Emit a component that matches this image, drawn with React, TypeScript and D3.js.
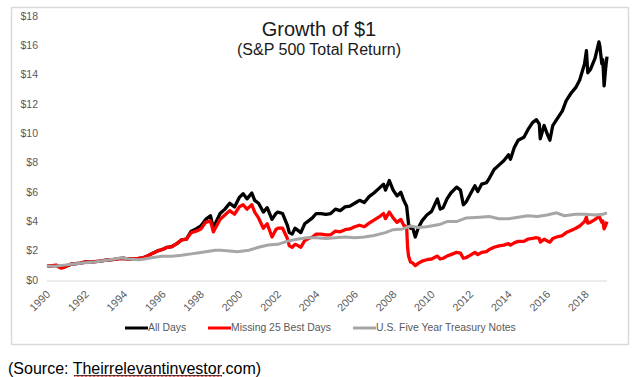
import React from "react";
import * as d3 from "d3";

// ---- data (decimal year, value in $) ----
const allDaysYears = [1990.0,1990.25,1990.5,1990.75,1991.0,1991.25,1991.5,1991.75,1992.0,1992.25,1992.5,1992.75,1993.0,1993.25,1993.5,1993.75,1994.0,1994.25,1994.5,1994.75,1995.0,1995.25,1995.5,1995.75,1996.0,1996.25,1996.5,1996.75,1997.0,1997.25,1997.5,1997.75,1998.0,1998.25,1998.5,1998.65,1998.75,1999.0,1999.25,1999.5,1999.75,2000.0,2000.2,2000.4,2000.65,2000.8,2001.0,2001.25,2001.45,2001.7,2001.9,2002.0,2002.25,2002.5,2002.6,2002.75,2002.9,2003.0,2003.2,2003.4,2003.6,2003.8,2004.0,2004.25,2004.5,2004.75,2005.0,2005.25,2005.5,2005.75,2006.0,2006.25,2006.5,2006.75,2007.0,2007.25,2007.5,2007.6,2007.8,2008.0,2008.2,2008.4,2008.55,2008.7,2008.8,2008.9,2009.0,2009.15,2009.3,2009.5,2009.75,2010.0,2010.3,2010.45,2010.6,2010.8,2011.0,2011.3,2011.5,2011.65,2011.8,2012.0,2012.25,2012.4,2012.6,2012.85,2013.0,2013.25,2013.5,2013.75,2014.0,2014.1,2014.3,2014.5,2014.8,2015.0,2015.25,2015.45,2015.6,2015.65,2015.85,2016.05,2016.15,2016.3,2016.5,2016.8,2017.0,2017.25,2017.5,2017.7,2017.95,2018.05,2018.12,2018.25,2018.5,2018.7,2018.75,2018.85,2018.9,2018.97,2019.05,2019.12];
const allDaysValues = [1.0,1.03,1.06,0.93,1.0,1.15,1.18,1.22,1.3,1.28,1.32,1.35,1.4,1.45,1.47,1.52,1.55,1.5,1.52,1.54,1.58,1.72,1.9,2.05,2.15,2.3,2.35,2.55,2.8,2.85,3.4,3.55,3.75,4.2,4.45,3.6,3.9,4.6,4.9,5.3,5.05,5.7,5.95,5.6,6.0,5.5,5.3,4.7,5.0,4.2,4.6,4.7,4.6,3.8,3.3,3.2,3.6,3.5,3.3,3.9,4.1,4.3,4.6,4.6,4.55,4.6,4.9,4.8,5.05,5.1,5.3,5.5,5.35,5.75,6.0,6.3,6.6,6.2,6.85,6.2,5.8,6.05,5.5,5.1,3.9,3.6,3.7,3.0,3.6,4.1,4.5,4.75,5.6,4.9,5.0,5.6,6.0,6.4,6.2,5.2,5.4,5.9,6.5,6.1,6.6,6.7,7.0,7.6,7.9,8.2,8.6,8.3,9.1,9.6,9.8,10.3,10.8,11.0,10.7,9.7,10.6,9.9,9.6,10.6,11.0,11.6,12.3,12.8,13.2,13.7,14.8,15.7,14.2,14.4,15.2,16.3,16.0,14.8,15.1,13.3,14.5,15.3];

const missingYears = [1990.0,1990.25,1990.5,1990.6,1990.75,1990.9,1991.0,1991.25,1991.5,1991.75,1992.0,1992.25,1992.5,1992.75,1993.0,1993.25,1993.5,1993.75,1994.0,1994.25,1994.5,1994.75,1995.0,1995.25,1995.5,1995.75,1996.0,1996.25,1996.5,1996.75,1997.0,1997.25,1997.5,1997.75,1998.0,1998.25,1998.5,1998.65,1998.75,1999.0,1999.25,1999.5,1999.75,2000.0,2000.2,2000.4,2000.65,2000.8,2001.0,2001.25,2001.45,2001.7,2001.9,2002.0,2002.25,2002.5,2002.6,2002.75,2002.9,2003.0,2003.2,2003.4,2003.6,2003.8,2004.0,2004.25,2004.5,2004.75,2005.0,2005.25,2005.5,2005.75,2006.0,2006.25,2006.5,2006.75,2007.0,2007.25,2007.5,2007.6,2007.8,2008.0,2008.2,2008.4,2008.55,2008.7,2008.75,2008.8,2008.9,2009.0,2009.15,2009.3,2009.5,2009.75,2010.0,2010.3,2010.45,2010.6,2010.8,2011.0,2011.3,2011.5,2011.65,2011.8,2012.0,2012.25,2012.4,2012.6,2012.85,2013.0,2013.25,2013.5,2013.75,2014.0,2014.1,2014.3,2014.5,2014.8,2015.0,2015.25,2015.45,2015.6,2015.65,2015.85,2016.05,2016.15,2016.3,2016.5,2016.8,2017.0,2017.25,2017.5,2017.7,2017.95,2018.05,2018.12,2018.25,2018.5,2018.7,2018.75,2018.85,2018.9,2018.97,2019.05,2019.12];
const missingValues = [1.0,1.05,1.08,0.95,0.88,0.92,1.02,1.15,1.18,1.22,1.3,1.28,1.32,1.35,1.4,1.45,1.47,1.52,1.55,1.5,1.52,1.54,1.58,1.72,1.9,2.05,2.15,2.3,2.35,2.55,2.8,2.85,3.3,3.4,3.55,4.0,4.1,3.35,3.6,4.2,4.5,4.8,4.55,5.05,5.2,4.9,5.2,4.7,4.3,3.6,3.9,3.0,3.5,3.6,3.6,2.9,2.4,2.3,2.5,2.45,2.3,2.75,2.9,3.0,3.2,3.2,3.15,3.15,3.4,3.35,3.5,3.55,3.7,3.8,3.7,3.95,4.15,4.35,4.6,4.25,4.7,4.3,4.0,4.2,3.8,3.7,2.3,1.7,1.3,1.25,1.05,1.2,1.35,1.45,1.5,1.7,1.5,1.55,1.7,1.8,1.95,1.9,1.55,1.6,1.75,1.95,1.8,1.95,2.0,2.15,2.3,2.4,2.45,2.55,2.45,2.6,2.7,2.7,2.85,2.9,2.95,2.9,2.65,2.85,2.7,2.65,2.9,3.0,3.1,3.3,3.45,3.6,3.75,4.05,4.35,3.95,4.0,4.2,4.4,4.3,4.0,4.1,3.55,3.8,4.05];

const treasuryYears = [1990.0,1990.5,1991.0,1991.5,1992.0,1992.5,1993.0,1993.5,1993.9,1994.25,1994.75,1995.0,1995.5,1996.0,1996.5,1997.0,1997.5,1998.0,1998.75,1999.0,1999.5,1999.9,2000.5,2001.0,2001.5,2002.0,2002.6,2003.0,2003.5,2004.0,2004.5,2005.0,2005.5,2006.0,2006.5,2007.0,2007.6,2008.0,2008.5,2008.9,2009.3,2009.75,2010.4,2010.8,2011.3,2011.8,2012.5,2013.0,2013.5,2014.0,2014.5,2015.0,2015.5,2016.0,2016.5,2016.9,2017.5,2018.0,2018.5,2018.9,2019.12];
const treasuryValues = [1.0,1.02,1.1,1.17,1.25,1.3,1.4,1.5,1.58,1.5,1.45,1.48,1.6,1.68,1.68,1.75,1.85,1.95,2.1,2.1,2.05,2.0,2.1,2.3,2.45,2.5,2.75,2.85,2.95,2.95,2.9,2.95,3.0,2.95,3.0,3.1,3.3,3.5,3.55,3.75,3.65,3.7,3.85,4.05,4.05,4.3,4.35,4.4,4.25,4.25,4.35,4.45,4.4,4.5,4.65,4.45,4.55,4.55,4.5,4.55,4.65];

const xTickYears = [1990,1992,1994,1996,1998,2000,2002,2004,2006,2008,2010,2012,2014,2016,2018];
const yTickValues = [0,2,4,6,8,10,12,14,16,18];

const seriesNames = ["All Days", "Missing 25 Best Days", "U.S. Five Year Treasury Notes"];
const seriesColors = ["#000000", "#ff0000", "#a6a6a6"];

const FONT = "'Liberation Sans', Arial, sans-serif";

export default function App() {
  const x = d3.scaleLinear().domain([1990, 2019.12]).range([47, 607]);
  const y = d3.scaleLinear().domain([0, 18]).range([281, 17]);

  const line = d3
    .line<[number, number]>()
    .x((d) => x(d[0]))
    .y((d) => y(d[1]))
    .curve(d3.curveLinear);

  const series = [
    d3.zip(allDaysYears, allDaysValues) as [number, number][],
    d3.zip(missingYears, missingValues) as [number, number][],
    d3.zip(treasuryYears, treasuryValues) as [number, number][],
  ];
  const widths = [3.3, 3.3, 3];

  const legendX = [125, 208, 353];
  const legendY = 328;

  // wavy spell-check underline
  const wave: string[] = [];
  for (let i = 0, px = 74; px <= 222; i++, px += 2) {
    wave.push(`${i === 0 ? "M" : "L"}${px},${i % 2 === 0 ? 377 : 375.5}`);
  }

  return (
    <svg
      width={643}
      height={377}
      style={{ position: "absolute", left: 0, top: 0, background: "#fff" }}
      fontFamily={FONT}
    >
      <rect x={0} y={0} width={643} height={377} fill="#fff" />
      <rect x={11.5} y={7.5} width={617} height={337} fill="none" stroke="#d9d9d9" strokeWidth={1.5} />

      <text x={319} y={36} textAnchor="middle" fontSize={20} fill="#1a1a1a">
        Growth of $1
      </text>
      <text x={319} y={55} textAnchor="middle" fontSize={16} fill="#1a1a1a">
        (S&amp;P 500 Total Return)
      </text>

      {yTickValues.map((v) => (
        <text key={v} x={38} y={y(v)} textAnchor="end" dominantBaseline="middle" fontSize={10.5} fill="#595959">
          {`$${v}`}
        </text>
      ))}

      <line x1={47} x2={607} y1={y(0)} y2={y(0)} stroke="#d9d9d9" strokeWidth={1} />

      {xTickYears.map((yr) => (
        <text
          key={yr}
          transform={`translate(${x(yr) + 4},${295}) rotate(-45)`}
          textAnchor="end"
          fontSize={10.8}
          fill="#595959"
        >
          {yr}
        </text>
      ))}

      {series.map((s, i) => (
        <path
          key={i}
          d={line(s) || ""}
          fill="none"
          stroke={seriesColors[i]}
          strokeWidth={widths[i]}
          strokeLinejoin="round"
        />
      ))}

      {seriesNames.map((name, i) => (
        <g key={name}>
          <line x1={legendX[i]} x2={legendX[i] + 23} y1={legendY} y2={legendY} stroke={seriesColors[i]} strokeWidth={3} />
          <text x={legendX[i] + 23} y={legendY} dominantBaseline="middle" fontSize={10.4} fill="#595959">
            {name}
          </text>
        </g>
      ))}

      <text x={8} y={374} fontSize={16} fill="#000">
        (Source: Theirrelevantinvestor.com)
      </text>
      <line x1={74} x2={222} y1={375.5} y2={375.5} stroke="#000" strokeWidth={0.8} />
      <path d={wave.join("")} fill="none" stroke="#e03030" strokeWidth={0.8} />
    </svg>
  );
}
